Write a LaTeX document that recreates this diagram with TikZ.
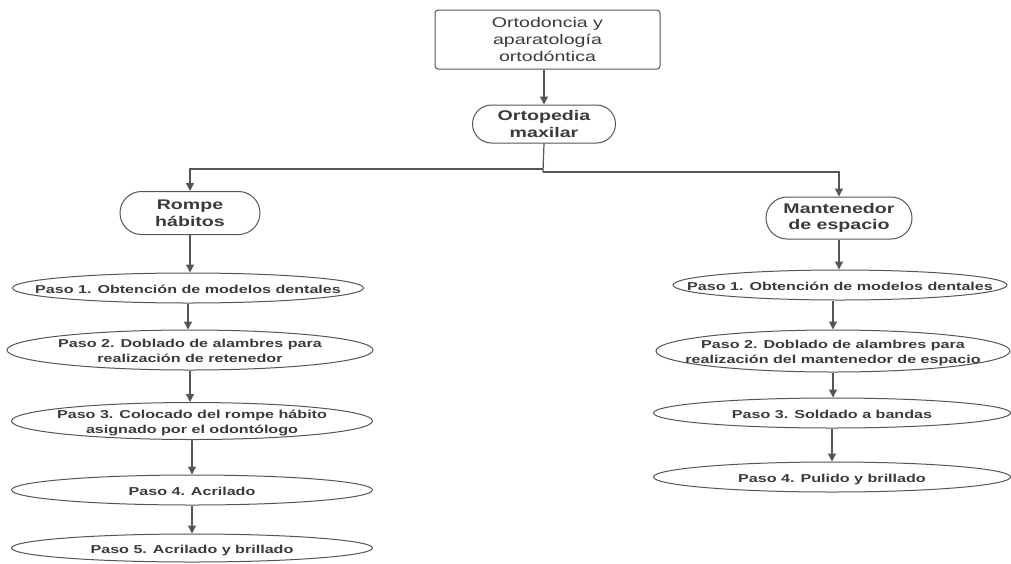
\documentclass[tikz,border=0pt]{standalone}
\usepackage{fontspec}
\setmainfont{Liberation Sans}
\newfontfamily\nf[FakeStretch=1.4]{Liberation Sans}
\usetikzlibrary{shapes.geometric,shapes.misc,arrows.meta}
\definecolor{ln}{HTML}{555555}
\definecolor{tx}{HTML}{3A3A3A}
\newcommand\zt[1]{\makebox[0pt]{\raisebox{-.45em}[0pt][0pt]{\begin{tabular}{@{}c@{}}#1\end{tabular}}}}
\begin{document}
\begin{tikzpicture}[x=1pt,y=-1pt,
  every node/.style={text=tx,align=center,inner sep=0pt},
  topbox/.style={draw=ln,line width=1pt,rectangle,rounded corners=3pt,font=\nf\fontsize{14}{16.7}\selectfont},
  stad/.style={draw=ln,line width=1pt,rounded rectangle,font=\nf\bfseries\fontsize{14}{16.7}\selectfont},
  oval/.style={draw=ln,line width=1pt,ellipse,font=\nf\bfseries\fontsize{11.5}{14.3}\selectfont},
  arr/.style={draw=ln,line width=1.2pt,-{Triangle[length=8pt,width=8pt]}},
  ln/.style={draw=ln,line width=1.2pt}]
\useasboundingbox (0,0) rectangle (1011,563);
\node[topbox,minimum width=225,minimum height=59] (top) at (547.5,39.5) {Ortodoncia y\\aparatología\\ortodóntica};
\node[stad,minimum width=143,minimum height=38] (orto) at (544,124) {Ortopedia\\maxilar};
\node[stad,minimum width=140,minimum height=43] (rompe) at (190,213) {Rompe\\hábitos};
\node[stad,minimum width=146,minimum height=42] (mant) at (839,218) {Mantenedor\\de espacio};
\node[oval,minimum width=351,minimum height=30] (l1) at (188,288) {\zt{Paso 1. Obtención de modelos dentales}};
\node[oval,minimum width=366,minimum height=40] (l2) at (190,350) {\zt{Paso 2. Doblado de alambres para\\realización de retenedor}};
\node[oval,minimum width=361,minimum height=37] (l3) at (192,421) {\zt{Paso 3. Colocado del rompe hábito\\asignado por el odontólogo}};
\node[oval,minimum width=361,minimum height=30] (l4) at (192,490) {\zt{Paso 4. Acrilado}};
\node[oval,minimum width=361,minimum height=28] (l5) at (192,548) {\zt{Paso 5. Acrilado y brillado}};
\node[oval,minimum width=334,minimum height=30] (r1) at (840,285) {\zt{Paso 1. Obtención de modelos dentales}};
\node[oval,minimum width=354,minimum height=42] (r2) at (833,351) {\zt{Paso 2. Doblado de alambres para\\realización del mantenedor de espacio}};
\node[oval,minimum width=357,minimum height=30] (r3) at (832,413) {\zt{Paso 3. Soldado a bandas}};
\node[oval,minimum width=357,minimum height=30] (r4) at (832,477) {\zt{Paso 4. Pulido y brillado}};
\coordinate (j) at (543,172);
\coordinate (jl) at (543,169);
\draw[arr] (top.south -| orto.north) -- (orto.north);
\draw[ln] (orto.south) -- (j);
\draw[arr] (j) -| (mant.north);
\draw[arr] (jl) -| (rompe.north);
\draw[arr] (rompe.south) -- (rompe.south |- l1.north);
\draw[arr] (l1.south) -- (l1.south |- l2.north);
\draw[arr] (l2.south) -- (l2.south |- l3.north);
\draw[arr] (l3.south) -- (l3.south |- l4.north);
\draw[arr] (l4.south) -- (l4.south |- l5.north);
\draw[arr] (mant.south) -- (mant.south |- r1.north);
\draw[arr] (r1.south -| r2.north) -- (r2.north);
\draw[arr] (r2.south) -- (r2.south |- r3.north);
\draw[arr] (r3.south) -- (r3.south |- r4.north);
\end{tikzpicture}
\end{document}
